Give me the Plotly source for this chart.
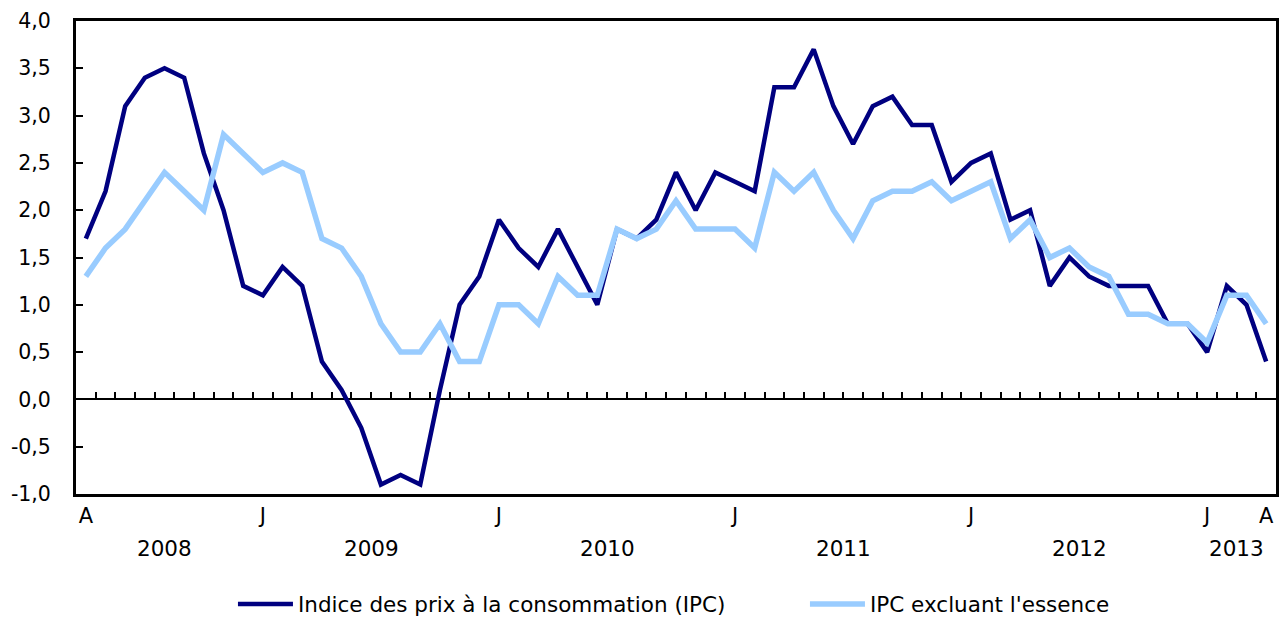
import plotly.graph_objects as go

# Monthly data, April 2008 to April 2013 (12-month % change)
months = ["2008-04","2008-05","2008-06","2008-07","2008-08","2008-09","2008-10","2008-11","2008-12",
          "2009-01","2009-02","2009-03","2009-04","2009-05","2009-06","2009-07","2009-08","2009-09","2009-10","2009-11","2009-12",
          "2010-01","2010-02","2010-03","2010-04","2010-05","2010-06","2010-07","2010-08","2010-09","2010-10","2010-11","2010-12",
          "2011-01","2011-02","2011-03","2011-04","2011-05","2011-06","2011-07","2011-08","2011-09","2011-10","2011-11","2011-12",
          "2012-01","2012-02","2012-03","2012-04","2012-05","2012-06","2012-07","2012-08","2012-09","2012-10","2012-11","2012-12",
          "2013-01","2013-02","2013-03","2013-04"]

ipc = [1.7, 2.2, 3.1, 3.4, 3.5, 3.4, 2.6, 2.0, 1.2,
       1.1, 1.4, 1.2, 0.4, 0.1, -0.3, -0.9, -0.8, -0.9, 0.1, 1.0, 1.3,
       1.9, 1.6, 1.4, 1.8, 1.4, 1.0, 1.8, 1.7, 1.9, 2.4, 2.0, 2.4,
       2.3, 2.2, 3.3, 3.3, 3.7, 3.1, 2.7, 3.1, 3.2, 2.9, 2.9, 2.3,
       2.5, 2.6, 1.9, 2.0, 1.2, 1.5, 1.3, 1.2, 1.2, 1.2, 0.8, 0.8,
       0.5, 1.2, 1.0, 0.4]

ipc_hors_essence = [1.3, 1.6, 1.8, 2.1, 2.4, 2.2, 2.0, 2.8, 2.6,
                    2.4, 2.5, 2.4, 1.7, 1.6, 1.3, 0.8, 0.5, 0.5, 0.8, 0.4, 0.4,
                    1.0, 1.0, 0.8, 1.3, 1.1, 1.1, 1.8, 1.7, 1.8, 2.1, 1.8, 1.8,
                    1.8, 1.6, 2.4, 2.2, 2.4, 2.0, 1.7, 2.1, 2.2, 2.2, 2.3, 2.1,
                    2.2, 2.3, 1.7, 1.9, 1.5, 1.6, 1.4, 1.3, 0.9, 0.9, 0.8, 0.8,
                    0.6, 1.1, 1.1, 0.8]

series_names = ["Indice des prix à la consommation (IPC)", "IPC excluant l'essence"]
series_colors = ["#000080", "#99CCFF"]

month_letters = {"01": "J", "04": "A"}
y_ticks = [-1.0, -0.5, 0.0, 0.5, 1.0, 1.5, 2.0, 2.5, 3.0, 3.5, 4.0]
y_range = [-1.0, 4.0]

FONT = "DejaVu Sans"
idx = list(range(len(months)))

# x tick labels: first/last month (A) and each January (J)
xt_vals, xt_text = [], []
for i, m in enumerate(months):
    mm = m[5:]
    if i == 0 or i == len(months) - 1 or mm == "01":
        xt_vals.append(i)
        xt_text.append(month_letters[mm])

# year label positions: centre of each year's months
years = sorted(set(m[:4] for m in months))
year_pos = []
for y in years:
    ii = [i for i, m in enumerate(months) if m[:4] == y]
    year_pos.append((min(ii) + max(ii)) / 2)

fig = go.Figure()
fig.add_trace(go.Scatter(x=idx, y=ipc, mode="lines", name=series_names[0],
                         line=dict(color=series_colors[0], width=4.5),
                         legendwidth=502))
fig.add_trace(go.Scatter(x=idx, y=ipc_hors_essence, mode="lines", name=series_names[1],
                         line=dict(color=series_colors[1], width=5.5), xaxis="x2"))

xr = [-0.5, len(months) - 0.5]
zero_pos = (0 - y_range[0]) / (y_range[1] - y_range[0])

fig.update_layout(
    width=1283, height=618,
    margin=dict(l=76, r=7, t=21, b=124, autoexpand=False),
    paper_bgcolor="white", plot_bgcolor="white",
    font=dict(family=FONT, size=20, color="black"),
    showlegend=True,
    legend=dict(orientation="h", x=0.1308, xanchor="left", y=-0.2326, yanchor="middle",
                font=dict(size=21.5), itemwidth=55,
                bgcolor="rgba(0,0,0,0)"),
    xaxis=dict(range=xr, tickmode="array", tickvals=xt_vals, ticktext=xt_text,
               ticks="", showline=True, mirror=True, linecolor="black", linewidth=3,
               showgrid=False, zeroline=False, ticklabelstandoff=1,
               tickfont=dict(size=21)),
    xaxis2=dict(range=xr, overlaying="x", anchor="free", position=zero_pos,
                tickmode="array", tickvals=[i + 0.5 for i in range(len(months) - 1)],
                ticks="inside", ticklen=6, tickwidth=2, tickcolor="black",
                showticklabels=False, showline=True, linecolor="black", linewidth=2,
                showgrid=False, zeroline=False, layer="below traces"),
    yaxis=dict(range=y_range, tickmode="array", tickvals=y_ticks,
               ticktext=[f"{v:.1f}".replace(".", ",") for v in y_ticks],
               ticks="inside", ticklen=7, tickwidth=2, tickcolor="black",
               showline=True, mirror=True, linecolor="black", linewidth=3,
               showgrid=False, zeroline=False, ticklabelstandoff=18,
               tickfont=dict(size=20.5)),
)

for y, p in zip(years, year_pos):
    fig.add_annotation(x=p, y=-0.116, xref="x", yref="paper", text=y, showarrow=False,
                       xanchor="center", yanchor="middle", font=dict(size=21.5))

fig.write_html("out.html", post_script="document.body.style.margin='0';",
               config={"displayModeBar": False})
